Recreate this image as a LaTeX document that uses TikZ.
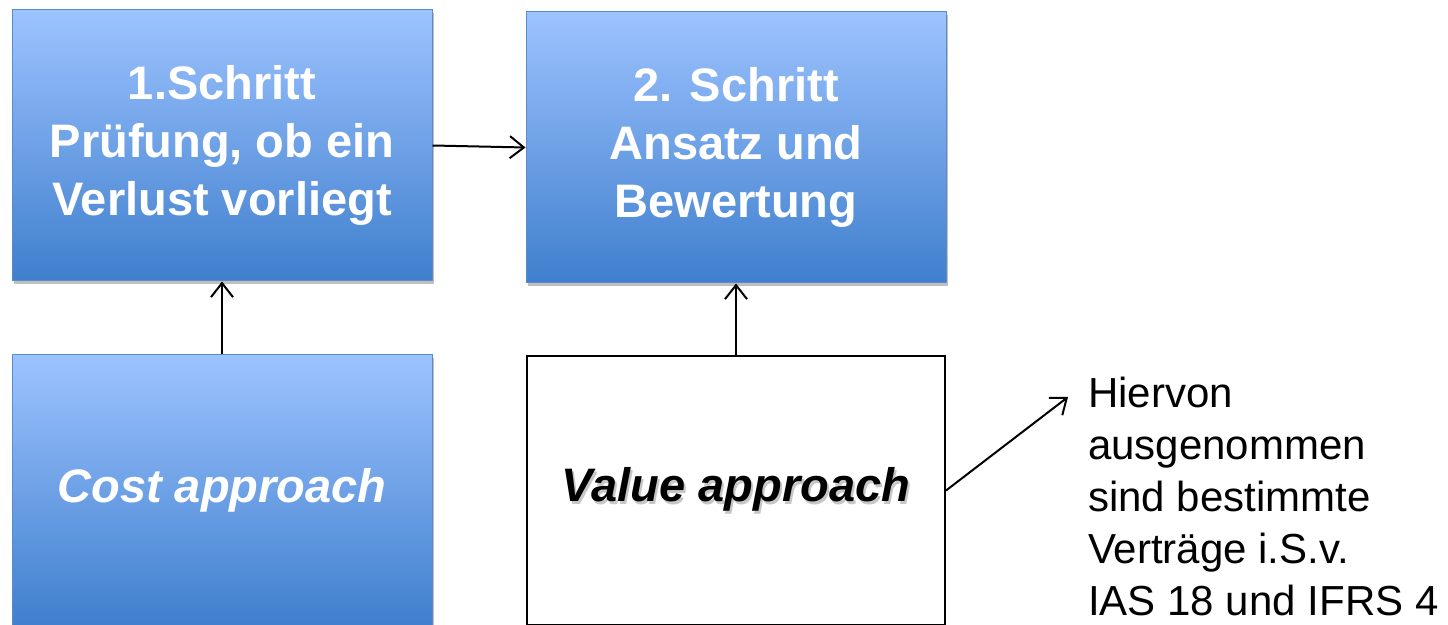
\documentclass[tikz,border=0pt]{standalone}
\usepackage{fontspec}
\setmainfont{Liberation Sans}
\usepackage{tikz}
\usetikzlibrary{arrows.meta,shadows}

\definecolor{boxtop}{HTML}{9DC3FF}
\definecolor{boxbottom}{HTML}{3F7FCD}
\definecolor{boxedge}{HTML}{5A8BCB}

% soft text shadow inside one node
\newcommand{\shadowed}[1]{\leavevmode\rlap{\raisebox{-3pt}{\kern2pt\textcolor{black!22}{#1}}}#1}

\tikzset{
  stepbox/.style={rectangle, draw=boxedge, line width=1pt, top color=boxtop, bottom color=boxbottom,
    minimum width=420pt, minimum height=271pt, inner sep=0pt, align=center, text=white,
    font=\fontsize{47}{58}\selectfont\bfseries,
    drop shadow={shadow xshift=2pt, shadow yshift=-3pt, opacity=0.25, fill=black}},
  plainbox/.style={rectangle, draw=black, line width=2pt, fill=white,
    minimum width=418pt, minimum height=269pt, inner sep=0pt, align=center,
    font=\fontsize{47}{58}\selectfont\bfseries\itshape},
  link/.style={line width=2pt, -{Straight Barb[length=14pt,width=22pt,line width=2pt]}}
}

\begin{document}
\begin{tikzpicture}[x=1pt, y=1pt]
  \useasboundingbox (0,0) rectangle (1448,624);
  \clip (0,0) rectangle (1448,624);

  % Steps
  \node[stepbox] (schritt1) at (222,478.5) {1.Schritt\\Prüfung, ob ein\\Verlust vorliegt};
  \node[stepbox] (schritt2) at (736,476.5) {2. Schritt\\Ansatz und\\Bewertung};

  % Approaches
  \node[stepbox, font=\fontsize{47}{58}\selectfont\bfseries\itshape] (cost) at (222,133.5) {Cost approach};
  \node[plainbox] (value) at (736,133.5) {\shadowed{Value approach}};

  % Note
  \node[anchor=north west, inner sep=0pt, align=left, font=\fontsize{42}{52}\selectfont] (note) at (1088,247)
    {Hiervon\\ausgenommen\\sind bestimmte\\Verträge i.S.v.\\IAS 18 und IFRS 4};
  \coordinate (notetip) at (1068,227);

  % Connectors
  \draw[link] (schritt1.east) -- (schritt2.west);
  \draw[link] (cost.north) -- (schritt1.south);
  \draw[link] (value.north) -- (schritt2.south);
  \draw[link] (value.east) -- (notetip);
\end{tikzpicture}
\end{document}
